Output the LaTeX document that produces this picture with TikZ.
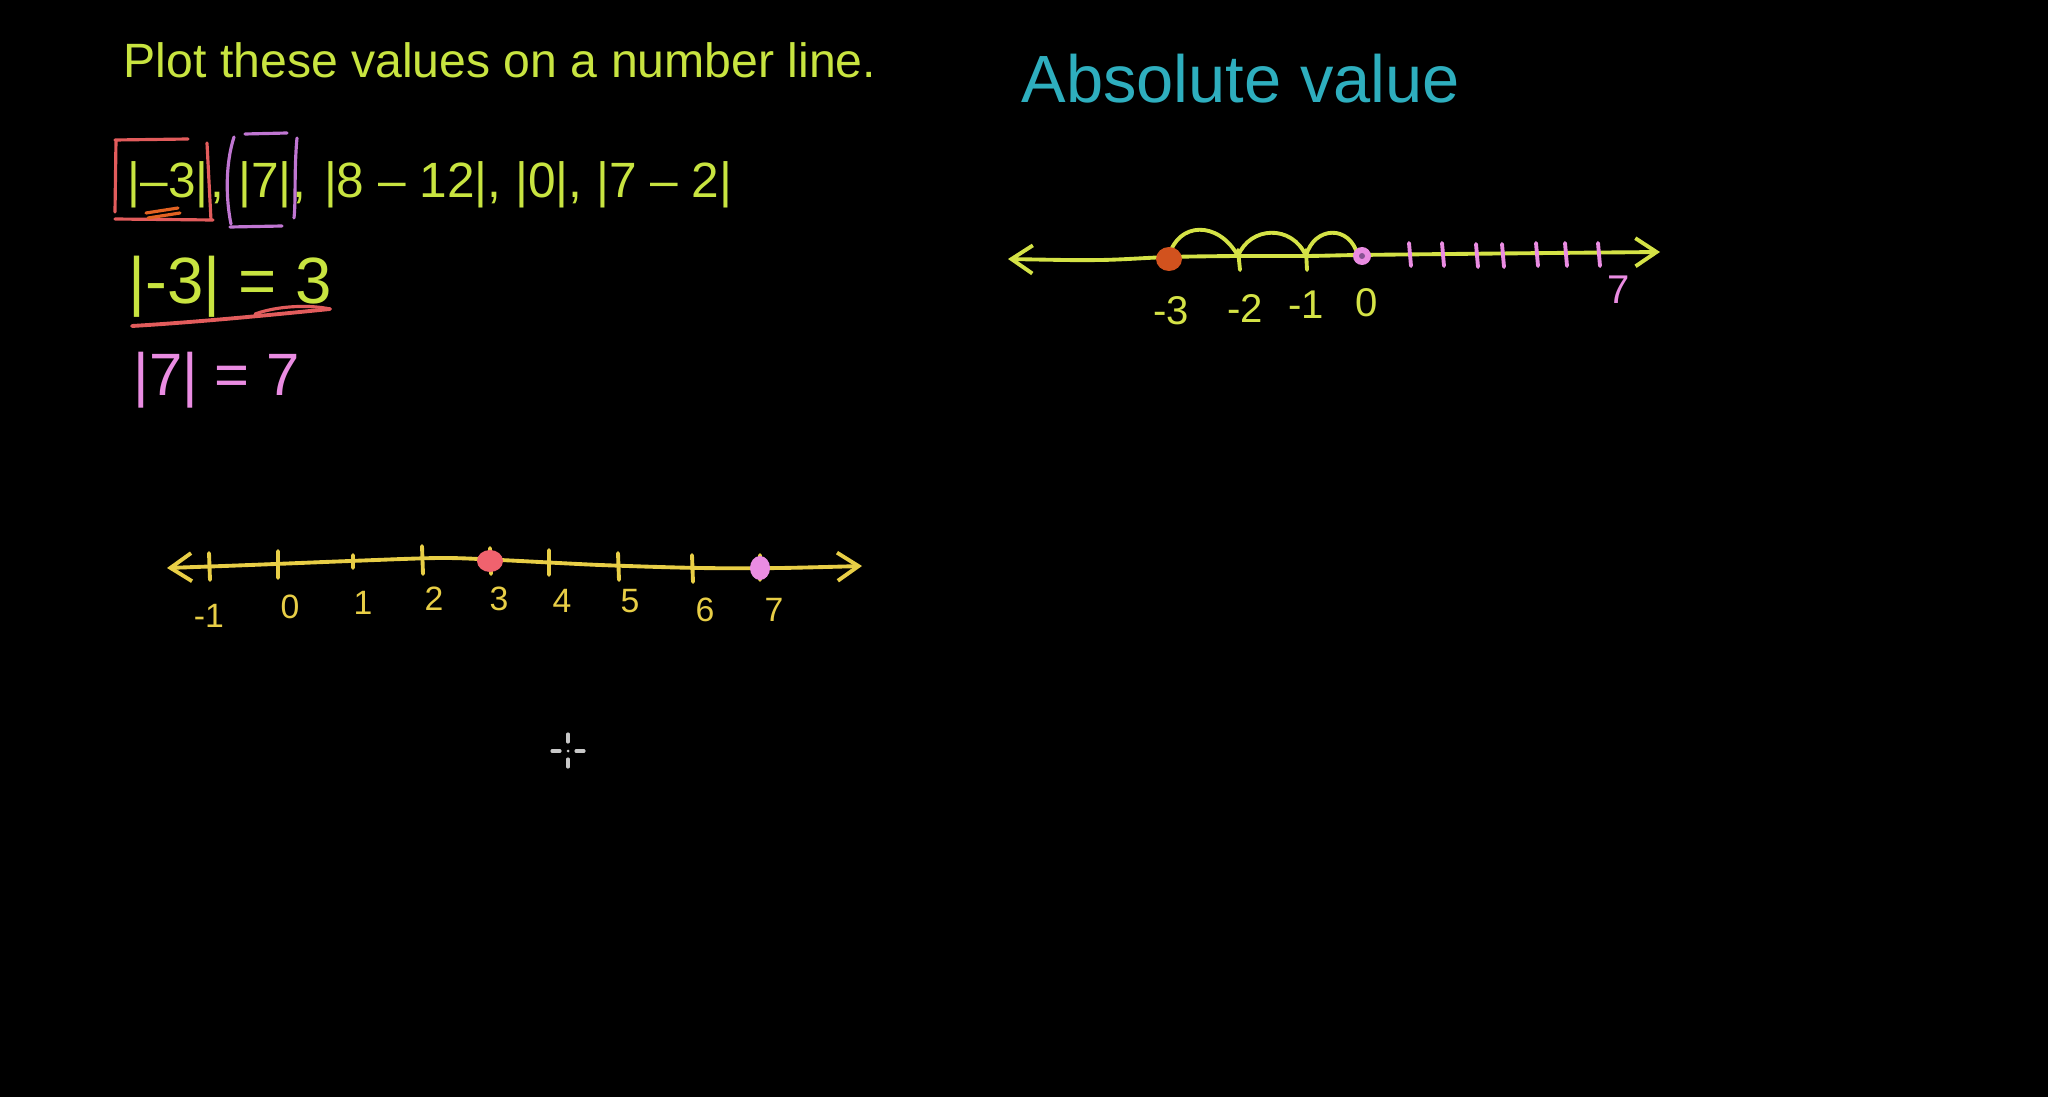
\documentclass[tikz,border=0pt]{standalone}
\usepackage{fontspec}
\setmainfont{Liberation Sans}
\usepackage{xcolor}
\usepackage{tikz}
\usetikzlibrary{arrows.meta, positioning, calc}
\definecolor{chalkgreen}{RGB}{200,228,64}
\definecolor{chalklime}{RGB}{212,226,70}
\definecolor{chalkgold}{RGB}{232,206,70}
\definecolor{chalkred}{RGB}{226,92,92}
\definecolor{chalkdot}{RGB}{240,98,110}
\definecolor{chalkpink}{RGB}{234,140,226}
\definecolor{chalkpurple}{RGB}{192,118,210}
\definecolor{chalkorange}{RGB}{226,98,34}
\definecolor{chalkrust}{RGB}{210,82,30}
\definecolor{chalkcyan}{RGB}{46,174,190}
\definecolor{cursorgray}{RGB}{200,200,200}
\tikzset{
  typed/.style  = {inner sep=0pt, anchor=base west, text=chalkgreen,
                   font=\fontsize{13.7pt}{16pt}\selectfont},
  rowtxt/.style = {typed, font=\fontsize{14.1pt}{16pt}\selectfont},
  hand/.style   = {inner sep=0pt, anchor=base west},
  pen/.style    = {line width=1.1pt, line cap=round, line join=round},
  thinpen/.style= {line width=0.9pt, line cap=round, line join=round},
  nline/.style  = {pen, {Straight Barb[length=6pt, width=8pt]}-{Straight Barb[length=6pt, width=8pt]}},
  lbl/.style    = {inner sep=0pt, text=chalkgold, font=\fontsize{9.6pt}{11pt}\selectfont},
  rlbl/.style   = {inner sep=0pt, text=chalklime, font=\fontsize{11.4pt}{13pt}\selectfont},
}

\begin{document}
\begin{tikzpicture}[x=0.01cm, y=-0.01cm]
  \fill[black] (0,0) rectangle (2048,1097);

  % typed prompt
  \node[typed] (prompt) at (123,78) {Plot these values on a number line.};
  \node[rowtxt] (absA) at (127,198) {|–3|};
  \node[rowtxt] (comA) at (absA.base east) {,};
  \node[rowtxt] (absB) at ($(comA.base east)+(13,0)$) {|7|};
  \node[rowtxt] (rest) at (absB.base east) {,\hspace{0.35em}|8 – 12|, |0|, |7 – 2|};

  % boxes round the first two values
  \draw[thinpen, chalkred] (116,140) -- (115,212) (115,140) -- (188,139)
    (207,143) -- (211,220) (115,219) -- (213,220);
  \draw[thinpen, chalkorange] (146,213) -- (178,208) (148,218) -- (180,213);
  \draw[thinpen, chalkpurple] (234,137) .. controls (225,165) and (226,200) .. (231,224);
  \draw[thinpen, chalkpurple] (245,134) -- (287,133) (297,138) .. controls (294,170) and (296,200) .. (294,218)
    (230,227) -- (282,226);

  % worked values
  \node[hand, text=chalkgreen, font=\fontsize{18.6pt}{20pt}\selectfont] (valA) at (128,304) {|-3| = 3};
  \draw[pen, chalkred] (132,326) .. controls (200,322) and (280,314) .. (330,309);
  \draw[thinpen, chalkred] (255,314) .. controls (280,305) and (312,305) .. (330,309);
  \node[hand, text=chalkpink, font=\fontsize{17pt}{19pt}\selectfont] (valB) at (133,396) {|7| = 7};

  % first number line
  \draw[nline, chalkgold] plot[smooth] coordinates {(167,568) (250,565) (350,561) (440,558)
    (500,560) (600,565) (700,568) (780,568) (862,566)};
  \draw[pen, chalkgold] (209,553) -- (210,580) (278,551) -- (278,578) (353,555) -- (353,568)
    (422,546) -- (423,574) (490,548) -- (491,574) (549,550) -- (549,575) (618,553) -- (619,580)
    (692,555) -- (693,582) (760,555) -- (760,580);
  \fill[chalkdot] (490,561) ellipse (13 and 11);
  \fill[chalkpink] (760,568) ellipse (10 and 12);
  \node[lbl] (lm1) at (209,616) {-1};
  \node[lbl] (l0) at (290,607) {0};
  \node[lbl] (l1) at (363,603) {1};
  \node[lbl] (l2) at (434,599) {2};
  \node[lbl] (l3) at (499,599) {3};
  \node[lbl] (l4) at (562,601) {4};
  \node[lbl] (l5) at (630,601) {5};
  \node[lbl] (l6) at (705,610) {6};
  \node[lbl] (l7) at (774,610) {7};

  % absolute value heading
  \node[hand, text=chalkcyan, font=\fontsize{19pt}{22pt}\selectfont] (heading) at (1021,103) {Absolute value};

  % second number line
  \draw[nline, chalklime] plot[smooth] coordinates {(1008,259) (1100,260) (1169,257)
    (1238,256) (1306,256) (1358,255) (1450,254) (1550,253) (1660,252)};
  \draw[pen, chalklime] (1238,250) -- (1240,270) (1306,250) -- (1307,270);
  \draw[pen, chalklime] (1169,256) .. controls (1178,222) and (1218,220) .. (1238,256);
  \draw[pen, chalklime] (1238,256) .. controls (1250,226) and (1292,224) .. (1306,256);
  \draw[pen, chalklime] (1306,256) .. controls (1314,226) and (1350,224) .. (1358,256);
  \draw[pen, chalkpink] (1409,243) -- (1411,266) (1442,243) -- (1444,266) (1476,244) -- (1478,267)
    (1502,244) -- (1504,267) (1536,243) -- (1538,266) (1565,243) -- (1567,266) (1598,243) -- (1600,266);
  \fill[chalkrust] (1169,259) ellipse (13 and 12);
  \fill[chalkpink] (1362,256) circle (9);
  \fill[chalkpurple!70!black] (1362,256) circle (3);
  \node[rlbl] (rm3) at (1171,311) {-3};
  \node[rlbl] (rm2) at (1245,309) {-2};
  \node[rlbl] (rm1) at (1306,305) {-1};
  \node[rlbl] (r0) at (1367,303) {0};
  \node[rlbl, text=chalkpink] (r7) at (1619,290) {7};

  % cursor
  \draw[thinpen, cursorgray] (552,751) -- (560,751) (576,751) -- (584,751)
    (568,734) -- (568,742) (568,759) -- (568,767);
  \fill[cursorgray] (568,751) circle (1.5);
\end{tikzpicture}
\end{document}
